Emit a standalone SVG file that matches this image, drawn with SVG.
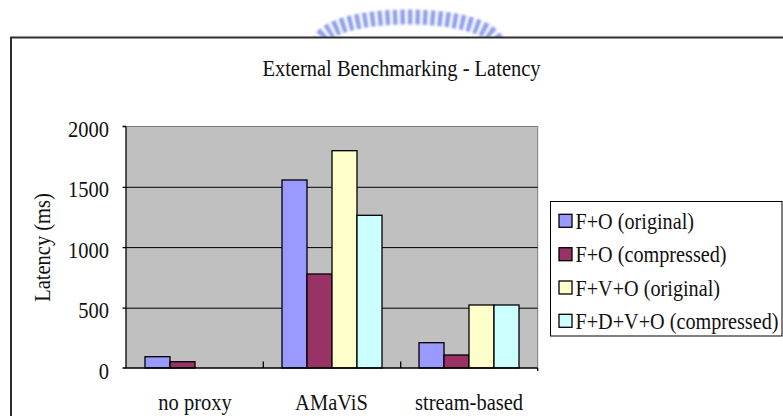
<svg xmlns="http://www.w3.org/2000/svg" width="783" height="416" viewBox="0 0 783 416">
  <style>
    text { font-family: "Liberation Serif", "Times New Roman", serif; font-size: 20.5px; fill: #111; }
    .ylab { text-anchor: end; }
    .cat { text-anchor: middle; }
    .key { font-size: 20.2px; }
    .grid { stroke: #000; stroke-width: 1; }
    .bar { stroke: #000; stroke-width: 1.3; }
    .s1 { fill: #9999FF; }
    .s2 { fill: #993366; }
    .s3 { fill: #FFFFCC; }
    .s4 { fill: #CCFFFF; }
  </style>
  <defs>
    <filter id="soft" x="-10%" y="-30%" width="120%" height="160%">
      <feGaussianBlur stdDeviation="0.8"/>
    </filter>
  </defs>

  <rect x="0" y="0" width="783" height="416" fill="#fff"/>

  <!-- crest watermark behind the chart frame -->
  <g id="crest" filter="url(#soft)">
    <path d="M 319 44 C 324 8, 492 8, 497 44" fill="none" stroke="#8f9fec" stroke-width="15" stroke-dasharray="4.5 3"/>
  </g>

  <!-- chart frame -->
  <g id="frame">
    <rect x="11" y="37.5" width="775" height="382" fill="#fff"/>
    <path d="M 11 418 V 37.5 H 785" fill="none" stroke="#2e2e2e" stroke-width="2"/>
  </g>

  <!-- texts are drawn slightly taller than the font's natural proportions -->
  <g id="title">
    <text class="cat" transform="translate(401.5 75.5) scale(1 1.13)">External Benchmarking - Latency</text>
  </g>

  <!-- plot area -->
  <g id="plot">
    <rect x="126" y="126.5" width="411.7" height="241.5" fill="#C0C0C0"/>
    <path d="M 126 126.5 H 537.7 V 368" fill="none" stroke="#7a7a7a" stroke-width="1"/>
    <line class="grid" x1="126" y1="187.3" x2="537.7" y2="187.3"/>
    <line class="grid" x1="126" y1="247.6" x2="537.7" y2="247.6"/>
    <line class="grid" x1="126" y1="308.2" x2="537.7" y2="308.2"/>
  </g>

  <!-- bars -->
  <g id="series-fo-original">
    <rect class="bar s1" x="145" y="356.7" width="25" height="11.3"/>
    <rect class="bar s1" x="282" y="180" width="25" height="188"/>
    <rect class="bar s1" x="419" y="342.7" width="25" height="25.3"/>
  </g>
  <g id="series-fo-compressed">
    <rect class="bar s2" x="170" y="361.7" width="25" height="6.3"/>
    <rect class="bar s2" x="307" y="274" width="25" height="94"/>
    <rect class="bar s2" x="444" y="355" width="25" height="13"/>
  </g>
  <g id="series-fvo-original">
    <rect class="bar s3" x="332" y="150.7" width="25" height="217.3"/>
    <rect class="bar s3" x="469" y="305" width="25" height="63"/>
  </g>
  <g id="series-fdvo-compressed">
    <rect class="bar s4" x="357" y="215.3" width="25" height="152.7"/>
    <rect class="bar s4" x="494" y="305" width="25" height="63"/>
  </g>

  <!-- axes and ticks -->
  <g id="axes" stroke="#000" stroke-width="1.3" fill="none">
    <path d="M 126 126.5 V 368 H 537.7"/>
    <path d="M 122.5 126.5 H 126 M 122.5 187.3 H 126 M 122.5 247.6 H 126 M 122.5 308.2 H 126 M 122.5 368 H 126"/>
    <path d="M 263.3 361.5 V 368 M 400.7 361.5 V 368 M 537.7 368 V 371"/>
  </g>

  <!-- value axis labels -->
  <g id="y-labels">
    <text class="ylab" transform="translate(109 137) scale(1 1.13)">2000</text>
    <text class="ylab" transform="translate(109 197) scale(1 1.13)">1500</text>
    <text class="ylab" transform="translate(109 257.5) scale(1 1.13)">1000</text>
    <text class="ylab" transform="translate(109 318) scale(1 1.13)">500</text>
    <text class="ylab" transform="translate(109 378.5) scale(1 1.13)">0</text>
    <text class="cat" transform="translate(49.5 247.5) rotate(-90) scale(1 1.13)">Latency (ms)</text>
  </g>

  <!-- category labels -->
  <g id="x-labels">
    <text class="cat" transform="translate(195 410) scale(1 1.13)">no proxy</text>
    <text class="cat" transform="translate(331.5 410) scale(1 1.13)">AMaViS</text>
    <text class="cat" transform="translate(469 410) scale(1 1.13)">stream-based</text>
  </g>

  <!-- legend -->
  <g id="legend">
    <rect x="550.5" y="201.5" width="231.5" height="134.5" fill="#fff" stroke="#000" stroke-width="1"/>
    <rect class="bar s1" x="559" y="214.3" width="13" height="13"/>
    <rect class="bar s2" x="559" y="247.7" width="13" height="13"/>
    <rect class="bar s3" x="559" y="281" width="13" height="13"/>
    <rect class="bar s4" x="559" y="314.3" width="13" height="13"/>
    <text class="key" transform="translate(575.5 228.5) scale(1 1.13)">F+O (original)</text>
    <text class="key" transform="translate(575.5 262) scale(1 1.13)">F+O (compressed)</text>
    <text class="key" transform="translate(575.5 295.5) scale(1 1.13)">F+V+O (original)</text>
    <text class="key" transform="translate(575.5 328.5) scale(1 1.13)">F+D+V+O (compressed)</text>
  </g>
</svg>
